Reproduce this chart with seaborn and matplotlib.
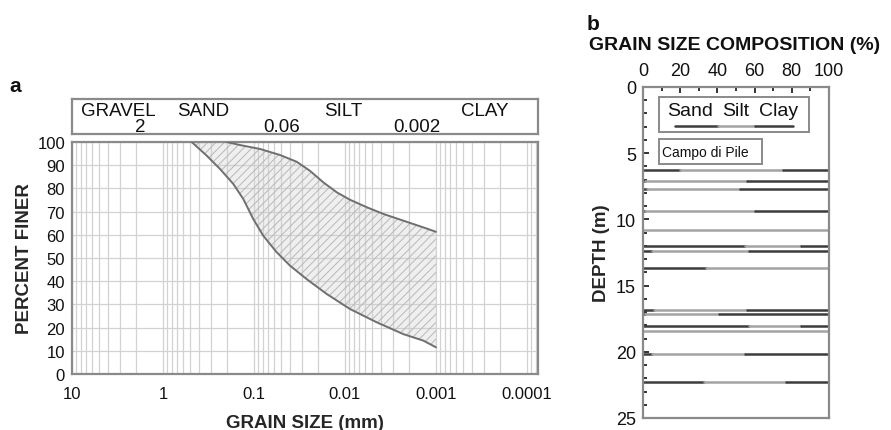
import matplotlib
matplotlib.use("Agg")
import matplotlib.pyplot as plt
from matplotlib.ticker import FixedLocator, FixedFormatter, LogLocator, NullFormatter, MultipleLocator
from matplotlib.patches import Rectangle
import pandas as pd
import seaborn as sns

# ---- panel a: grading envelope (grain size in mm, percent finer) ----
upper_size = [0.20, 0.1425, 0.0859, 0.0518, 0.0340, 0.0243, 0.0173, 0.0123,
              0.0088, 0.00578, 0.00379, 0.00229, 0.00138, 0.001]
upper_pct = [100, 98.7, 97.0, 94.4, 91.5, 87.6, 82.6, 78.3,
             75.1, 71.9, 69.0, 66.1, 63.2, 61.3]
lower_size = [0.484, 0.331, 0.2366, 0.1687, 0.131, 0.1019, 0.0791, 0.0564,
              0.0402, 0.0264, 0.0159, 0.0088, 0.00449, 0.00229, 0.00138, 0.001]
lower_pct = [100, 94.1, 88.4, 81.9, 75.4, 66.8, 59.6, 52.5,
             46.7, 40.9, 34.5, 28.0, 22.3, 17.2, 14.4, 11.5]

size_ticks = [10, 1, 0.1, 0.01, 0.001, 0.0001]
size_labels = ["10", "1", "0.1", "0.01", "0.001", "0.0001"]
pct_ticks = list(range(0, 101, 10))

class_names = ["GRAVEL", "SAND", "SILT", "CLAY"]
class_bounds = ["2", "0.06", "0.002"]

# ---- panel b: grain size composition with depth (Campo di Pile) ----
depths = [6.25, 7.10, 7.70, 9.39, 10.8, 12.03, 12.36, 13.65,
          16.84, 17.15, 18.08, 18.4, 20.2, 22.3]
sand = [20, 1, 2, 1, 0, 55, 5, 34, 6, 1, 57, 0, 5, 33]
silt = [55, 55, 50, 59, 100, 30, 52, 66, 50, 40, 28, 100, 50, 44]
clay = [25, 44, 48, 40, 0, 15, 43, 0, 44, 59, 15, 0, 45, 23]
components = ["Sand", "Silt", "Clay"]

depth_ticks = [0, 5, 10, 15, 20, 25]
comp_ticks = [0, 20, 40, 60, 80, 100]

sns.set_theme(style="white")
plt.rcParams["font.family"] = ["Liberation Sans", "DejaVu Sans"]
plt.rcParams["hatch.linewidth"] = 0.7

DARK = "#3c3c3c"
LIGHT = "#a3a3a3"
FRAME = "#8a8a8a"
GRID = "#d2d2d2"

W, H = 891, 431
fig = plt.figure(figsize=(W / 100, H / 100), dpi=100)


def place(left, top, right, bottom):
    return [left / W, 1 - bottom / H, (right - left) / W, (bottom - top) / H]


ax_a = fig.add_axes(place(72, 143, 538, 375))
ax_cls = fig.add_axes(place(72, 100, 538, 135))
ax_b = fig.add_axes(place(643, 88, 829, 419))

# ---------------- panel a ----------------
ax_a.set_xscale("log")
ax_a.set_xlim(10, 10 ** -4.121)
ax_a.set_ylim(0, 100)
ax_a.xaxis.set_major_locator(FixedLocator(size_ticks))
ax_a.xaxis.set_major_formatter(FixedFormatter(size_labels))
ax_a.xaxis.set_minor_locator(LogLocator(base=10, subs=range(2, 10), numticks=20))
ax_a.xaxis.set_minor_formatter(NullFormatter())
ax_a.yaxis.set_major_locator(FixedLocator(pct_ticks))
ax_a.grid(True, which="both", axis="x", color=GRID, lw=0.9)
ax_a.grid(True, which="major", axis="y", color=GRID, lw=0.9)
ax_a.set_axisbelow(True)
ax_a.tick_params(axis="both", which="both", length=0, labelsize=12, colors="#111111")
ax_a.tick_params(axis="x", pad=9)
ax_a.tick_params(axis="y", pad=5)

# hatched band between the two bounding curves (grid stays visible through it)
env_x = lower_size + upper_size[::-1]
env_y = lower_pct + upper_pct[::-1]
ax_a.fill(env_x, env_y, facecolor=(0.80, 0.80, 0.80, 0.30), edgecolor="#b8b8b8",
          hatch="////", linewidth=0, zorder=2.5)

env = pd.concat([
    pd.DataFrame({"size": upper_size, "pct": upper_pct, "bound": "upper"}),
    pd.DataFrame({"size": lower_size, "pct": lower_pct, "bound": "lower"}),
])
sns.lineplot(data=env, x="size", y="pct", hue="bound", estimator=None, sort=False,
             palette={"upper": "#6f6f6f", "lower": "#6f6f6f"}, lw=1.4,
             legend=False, ax=ax_a, zorder=3)
ax_a.set_xlim(10, 10 ** -4.121)
ax_a.set_ylim(0, 100)
ax_a.set_xlabel("GRAIN SIZE (mm)", fontsize=13.5, fontweight="bold", labelpad=9)
ax_a.set_ylabel("PERCENT FINER", fontsize=13.5, fontweight="bold", labelpad=3)
for sp in ax_a.spines.values():
    sp.set_color(FRAME)
    sp.set_linewidth(1.6)

# size class band above the chart
ax_cls.set_xticks([])
ax_cls.set_yticks([])
for sp in ax_cls.spines.values():
    sp.set_color(FRAME)
    sp.set_linewidth(1.6)
for name, xf in zip(class_names, [0.099, 0.281, 0.581, 0.886]):
    ax_cls.text(xf, 0.66, name, transform=ax_cls.transAxes, ha="center",
                va="center", fontsize=13.5, color="#111111")
for lab, xf in zip(class_bounds, [0.146, 0.450, 0.740]):
    ax_cls.text(xf, 0.20, lab, transform=ax_cls.transAxes, ha="center",
                va="center", fontsize=13.5, color="#111111")

# ---------------- panel b ----------------
rows = []
for i, (d, s, t, c) in enumerate(zip(depths, sand, silt, clay)):
    start = 0
    for comp, v in zip(components, (s, t, c)):
        if v > 0:
            seg = f"{i}-{comp}"
            rows.append({"seg": seg, "comp": comp, "pct": start, "depth": d})
            rows.append({"seg": seg, "comp": comp, "pct": start + v, "depth": d})
        start += v
comp_df = pd.DataFrame(rows)

sns.lineplot(data=comp_df, x="pct", y="depth", hue="comp", units="seg",
             estimator=None, sort=False,
             palette={"Sand": DARK, "Silt": LIGHT, "Clay": DARK},
             lw=1.8, legend=False, ax=ax_b)
ax_b.set_xlim(0, 100)
ax_b.set_ylim(25, 0)
ax_b.xaxis.tick_top()
ax_b.xaxis.set_label_position("top")
ax_b.xaxis.set_major_locator(FixedLocator(comp_ticks))
ax_b.xaxis.set_minor_locator(MultipleLocator(10))
ax_b.yaxis.set_major_locator(FixedLocator(depth_ticks))
ax_b.yaxis.set_minor_locator(MultipleLocator(1))
ax_b.tick_params(axis="both", which="both", direction="in", colors="#111111",
                 labelsize=13, width=1.2)
ax_b.tick_params(axis="both", which="major", length=4)
ax_b.tick_params(axis="both", which="minor", length=3)
ax_b.tick_params(axis="x", which="both", top=True, bottom=False, pad=6)
ax_b.tick_params(axis="y", which="both", left=True, right=False, pad=5)
for t in ax_b.get_xticklines() + ax_b.get_yticklines():
    t.set_color("#555555")
ax_b.set_xlabel("")
ax_b.set_ylabel("DEPTH (m)", fontsize=13.5, fontweight="bold", labelpad=4)
for sp in ax_b.spines.values():
    sp.set_color(FRAME)
    sp.set_linewidth(1.6)

# key box
ax_b.add_patch(Rectangle((0.086, 0.864), 0.806, 0.106, transform=ax_b.transAxes,
                         fill=False, edgecolor=FRAME, lw=1.4, zorder=4))
for comp, xf in zip(components, [0.253, 0.497, 0.731]):
    ax_b.text(xf, 0.930, comp, transform=ax_b.transAxes, ha="center",
              va="center", fontsize=14, color="#111111")
for (x0, x1), col in zip([(0.172, 0.403), (0.403, 0.602), (0.602, 0.806)],
                         [DARK, LIGHT, DARK]):
    ax_b.plot([x0, x1], [0.882, 0.882], transform=ax_b.transAxes, color=col, lw=1.8)

# site box
ax_b.add_patch(Rectangle((0.086, 0.767), 0.554, 0.076, transform=ax_b.transAxes,
                         fill=False, edgecolor=FRAME, lw=1.4, zorder=4))
ax_b.text(0.102, 0.805, "Campo di Pile", transform=ax_b.transAxes, ha="left",
          va="center", fontsize=10, color="#111111")

# titles and panel letters
fig.text(735 / W, 1 - 45 / H, "GRAIN SIZE COMPOSITION (%)", ha="center",
         va="center", fontsize=14, fontweight="bold", color="#111111")
fig.text(15 / W, 1 - 86 / H, "a", ha="center", va="center", fontsize=15,
         fontweight="bold", color="#111111")
fig.text(593 / W, 1 - 24 / H, "b", ha="center", va="center", fontsize=15,
         fontweight="bold", color="#111111")

fig.savefig("out.png", dpi=100, facecolor="white")
